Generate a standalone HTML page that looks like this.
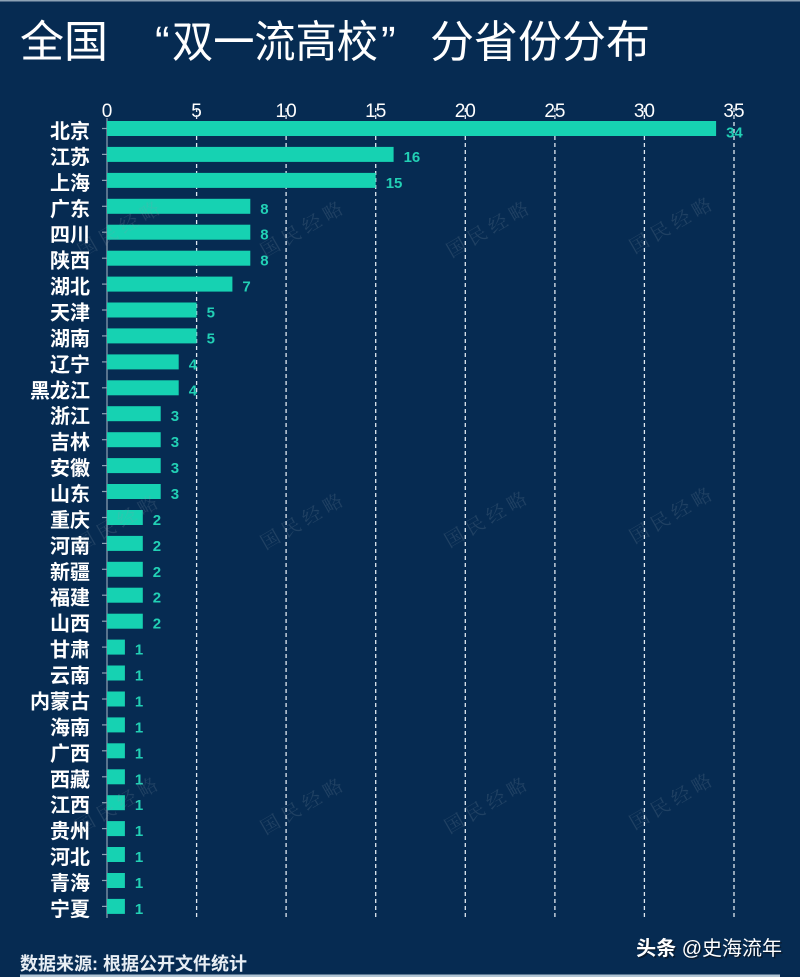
<!DOCTYPE html>
<html><head><meta charset="utf-8"><style>
html,body{margin:0;padding:0;background:#062b52;}
svg{display:block;}
.cat{font-family:"Liberation Sans","Noto Sans CJK SC",sans-serif;font-size:20px;font-weight:bold;fill:#ffffff;text-anchor:end;}
.val{font-family:"Liberation Sans",sans-serif;font-size:15px;font-weight:bold;fill:#22d0b5;}
.tk{font-family:"Liberation Sans",sans-serif;font-size:19px;fill:#ffffff;text-anchor:middle;}
.wm{font-family:"Noto Serif CJK SC","Noto Sans CJK SC",serif;font-size:19px;letter-spacing:5px;fill:#8a9aa8;opacity:0.2;}
</style></head><body>
<svg width="800" height="977" viewBox="0 0 800 977" xmlns="http://www.w3.org/2000/svg">
<rect x="0" y="0" width="800" height="977" fill="#062b52"/>
<rect x="0" y="0" width="800" height="1.5" fill="#8da2b5"/>
<!-- title -->
<g font-family="'Noto Sans CJK SC',sans-serif" font-size="44" fill="#ffffff">
<text x="20" y="57">全国</text>
<text x="155" y="57" font-family="'Liberation Sans',sans-serif">“</text>
<text x="172" y="57" textLength="206" lengthAdjust="spacingAndGlyphs">双一流高校</text>
<text x="381" y="57" font-family="'Liberation Sans',sans-serif">”</text>
<text x="430" y="57">分省份分布</text>
</g>
<!-- tick labels -->
<text class="tk" x="107" y="117">0</text>
<text class="tk" x="196.6" y="117">5</text>
<text class="tk" x="286.1" y="117">10</text>
<text class="tk" x="375.7" y="117">15</text>
<text class="tk" x="465.3" y="117">20</text>
<text class="tk" x="554.9" y="117">25</text>
<text class="tk" x="644.4" y="117">30</text>
<text class="tk" x="734" y="117">35</text>
<!-- grid -->
<g stroke="#dfe8f0" stroke-width="1.3" stroke-dasharray="4,3">
<line x1="196.6" y1="108" x2="196.6" y2="918"/>
<line x1="286.1" y1="108" x2="286.1" y2="918"/>
<line x1="375.7" y1="108" x2="375.7" y2="918"/>
<line x1="465.3" y1="108" x2="465.3" y2="918"/>
<line x1="554.9" y1="108" x2="554.9" y2="918"/>
<line x1="644.4" y1="108" x2="644.4" y2="918"/>
<line x1="734" y1="108" x2="734" y2="918"/>
</g>
<!-- axis -->
<line x1="107" y1="118" x2="107" y2="918" stroke="#8fa3b5" stroke-width="1.2"/>
<!-- bars -->
<g fill="#16d2b2">
<rect x="107" y="121.0" width="609.1" height="15"/>
<rect x="107" y="146.9" width="286.6" height="15"/>
<rect x="107" y="172.9" width="268.7" height="15"/>
<rect x="107" y="198.8" width="143.3" height="15"/>
<rect x="107" y="224.7" width="143.3" height="15"/>
<rect x="107" y="250.7" width="143.3" height="15"/>
<rect x="107" y="276.6" width="125.4" height="15"/>
<rect x="107" y="302.5" width="89.6" height="15"/>
<rect x="107" y="328.4" width="89.6" height="15"/>
<rect x="107" y="354.4" width="71.7" height="15"/>
<rect x="107" y="380.3" width="71.7" height="15"/>
<rect x="107" y="406.2" width="53.7" height="15"/>
<rect x="107" y="432.2" width="53.7" height="15"/>
<rect x="107" y="458.1" width="53.7" height="15"/>
<rect x="107" y="484.0" width="53.7" height="15"/>
<rect x="107" y="510.0" width="35.8" height="15"/>
<rect x="107" y="535.9" width="35.8" height="15"/>
<rect x="107" y="561.8" width="35.8" height="15"/>
<rect x="107" y="587.7" width="35.8" height="15"/>
<rect x="107" y="613.7" width="35.8" height="15"/>
<rect x="107" y="639.6" width="17.9" height="15"/>
<rect x="107" y="665.5" width="17.9" height="15"/>
<rect x="107" y="691.5" width="17.9" height="15"/>
<rect x="107" y="717.4" width="17.9" height="15"/>
<rect x="107" y="743.3" width="17.9" height="15"/>
<rect x="107" y="769.3" width="17.9" height="15"/>
<rect x="107" y="795.2" width="17.9" height="15"/>
<rect x="107" y="821.1" width="17.9" height="15"/>
<rect x="107" y="847.0" width="17.9" height="15"/>
<rect x="107" y="873.0" width="17.9" height="15"/>
<rect x="107" y="898.9" width="17.9" height="15"/>
</g>
<!-- tick marks -->
<g stroke="#8fa3b5" stroke-width="1.2">
<line x1="102" x2="107" y1="128.5" y2="128.5"/><line x1="102" x2="107" y1="154.4" y2="154.4"/><line x1="102" x2="107" y1="180.4" y2="180.4"/><line x1="102" x2="107" y1="206.3" y2="206.3"/><line x1="102" x2="107" y1="232.2" y2="232.2"/><line x1="102" x2="107" y1="258.2" y2="258.2"/><line x1="102" x2="107" y1="284.1" y2="284.1"/><line x1="102" x2="107" y1="310.0" y2="310.0"/><line x1="102" x2="107" y1="335.9" y2="335.9"/><line x1="102" x2="107" y1="361.9" y2="361.9"/><line x1="102" x2="107" y1="387.8" y2="387.8"/><line x1="102" x2="107" y1="413.7" y2="413.7"/><line x1="102" x2="107" y1="439.7" y2="439.7"/><line x1="102" x2="107" y1="465.6" y2="465.6"/><line x1="102" x2="107" y1="491.5" y2="491.5"/><line x1="102" x2="107" y1="517.5" y2="517.5"/><line x1="102" x2="107" y1="543.4" y2="543.4"/><line x1="102" x2="107" y1="569.3" y2="569.3"/><line x1="102" x2="107" y1="595.2" y2="595.2"/><line x1="102" x2="107" y1="621.2" y2="621.2"/><line x1="102" x2="107" y1="647.1" y2="647.1"/><line x1="102" x2="107" y1="673.0" y2="673.0"/><line x1="102" x2="107" y1="699.0" y2="699.0"/><line x1="102" x2="107" y1="724.9" y2="724.9"/><line x1="102" x2="107" y1="750.8" y2="750.8"/><line x1="102" x2="107" y1="776.8" y2="776.8"/><line x1="102" x2="107" y1="802.7" y2="802.7"/><line x1="102" x2="107" y1="828.6" y2="828.6"/><line x1="102" x2="107" y1="854.5" y2="854.5"/><line x1="102" x2="107" y1="880.5" y2="880.5"/><line x1="102" x2="107" y1="906.4" y2="906.4"/>
</g>
<!-- category labels -->
<text class="cat" x="90" y="138.0">北京</text>
<text class="cat" x="90" y="163.9">江苏</text>
<text class="cat" x="90" y="189.9">上海</text>
<text class="cat" x="90" y="215.8">广东</text>
<text class="cat" x="90" y="241.7">四川</text>
<text class="cat" x="90" y="267.7">陕西</text>
<text class="cat" x="90" y="293.6">湖北</text>
<text class="cat" x="90" y="319.5">天津</text>
<text class="cat" x="90" y="345.4">湖南</text>
<text class="cat" x="90" y="371.4">辽宁</text>
<text class="cat" x="90" y="397.3">黑龙江</text>
<text class="cat" x="90" y="423.2">浙江</text>
<text class="cat" x="90" y="449.2">吉林</text>
<text class="cat" x="90" y="475.1">安徽</text>
<text class="cat" x="90" y="501.0">山东</text>
<text class="cat" x="90" y="527.0">重庆</text>
<text class="cat" x="90" y="552.9">河南</text>
<text class="cat" x="90" y="578.8">新疆</text>
<text class="cat" x="90" y="604.7">福建</text>
<text class="cat" x="90" y="630.7">山西</text>
<text class="cat" x="90" y="656.6">甘肃</text>
<text class="cat" x="90" y="682.5">云南</text>
<text class="cat" x="90" y="708.5">内蒙古</text>
<text class="cat" x="90" y="734.4">海南</text>
<text class="cat" x="90" y="760.3">广西</text>
<text class="cat" x="90" y="786.3">西藏</text>
<text class="cat" x="90" y="812.2">江西</text>
<text class="cat" x="90" y="838.1">贵州</text>
<text class="cat" x="90" y="864.0">河北</text>
<text class="cat" x="90" y="890.0">青海</text>
<text class="cat" x="90" y="915.9">宁夏</text>
<!-- value labels -->
<text class="val" x="726.1" y="137.5">34</text>
<text class="val" x="403.6" y="161.9">16</text>
<text class="val" x="385.7" y="187.9">15</text>
<text class="val" x="260.3" y="213.8">8</text>
<text class="val" x="260.3" y="239.7">8</text>
<text class="val" x="260.3" y="265.7">8</text>
<text class="val" x="242.4" y="291.6">7</text>
<text class="val" x="206.6" y="317.5">5</text>
<text class="val" x="206.6" y="343.4">5</text>
<text class="val" x="188.7" y="369.4">4</text>
<text class="val" x="188.7" y="395.3">4</text>
<text class="val" x="170.7" y="421.2">3</text>
<text class="val" x="170.7" y="447.2">3</text>
<text class="val" x="170.7" y="473.1">3</text>
<text class="val" x="170.7" y="499.0">3</text>
<text class="val" x="152.8" y="525.0">2</text>
<text class="val" x="152.8" y="550.9">2</text>
<text class="val" x="152.8" y="576.8">2</text>
<text class="val" x="152.8" y="602.7">2</text>
<text class="val" x="152.8" y="628.7">2</text>
<text class="val" x="134.9" y="654.6">1</text>
<text class="val" x="134.9" y="680.5">1</text>
<text class="val" x="134.9" y="706.5">1</text>
<text class="val" x="134.9" y="732.4">1</text>
<text class="val" x="134.9" y="758.3">1</text>
<text class="val" x="134.9" y="784.3">1</text>
<text class="val" x="134.9" y="810.2">1</text>
<text class="val" x="134.9" y="836.1">1</text>
<text class="val" x="134.9" y="862.0">1</text>
<text class="val" x="134.9" y="888.0">1</text>
<text class="val" x="134.9" y="913.9">1</text>
<!-- watermarks -->
<g>
<text class="wm" text-anchor="middle" transform="translate(124,234) rotate(-30)">国民经略</text>
<text class="wm" text-anchor="middle" transform="translate(307,234) rotate(-30)">国民经略</text>
<text class="wm" text-anchor="middle" transform="translate(493,234) rotate(-30)">国民经略</text>
<text class="wm" text-anchor="middle" transform="translate(676,230) rotate(-30)">国民经略</text>
<text class="wm" text-anchor="middle" transform="translate(122,528) rotate(-30)">国民经略</text>
<text class="wm" text-anchor="middle" transform="translate(307,526) rotate(-30)">国民经略</text>
<text class="wm" text-anchor="middle" transform="translate(491,524) rotate(-30)">国民经略</text>
<text class="wm" text-anchor="middle" transform="translate(676,520) rotate(-30)">国民经略</text>
<text class="wm" text-anchor="middle" transform="translate(122,810) rotate(-30)">国民经略</text>
<text class="wm" text-anchor="middle" transform="translate(307,811) rotate(-30)">国民经略</text>
<text class="wm" text-anchor="middle" transform="translate(491,810) rotate(-30)">国民经略</text>
<text class="wm" text-anchor="middle" transform="translate(676,806) rotate(-30)">国民经略</text>
</g>
<!-- footer -->
<text x="20" y="970" font-family="'Liberation Sans','Noto Sans CJK SC',sans-serif" font-size="18" font-weight="bold" fill="#e8eef4">数据来源: 根据公开文件统计</text>
<rect x="20" y="974.5" width="760" height="2.5" fill="#b0c4d4"/>
<g font-family="'Liberation Sans','Noto Sans CJK SC',sans-serif" font-size="20" text-anchor="end">
<text x="783.5" y="956.5" fill="#0a1a2c"><tspan font-weight="bold">头条</tspan> @史海流年</text>
<text x="782" y="955" fill="#ffffff"><tspan font-weight="bold">头条</tspan> @史海流年</text>
</g>
</svg>
</body></html>
